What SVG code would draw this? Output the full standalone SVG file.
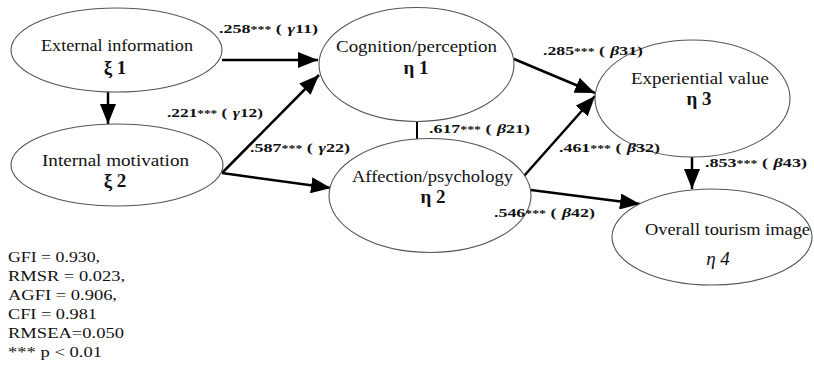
<svg xmlns="http://www.w3.org/2000/svg" width="814" height="374" viewBox="0 0 814 374">
<style>
.node ellipse{fill:#fff;stroke:#555;stroke-width:1.1}
.lbl{font-family:"Liberation Serif","Times New Roman",serif;font-size:16px;fill:#111;text-anchor:middle}
.sym{font-family:"Liberation Serif","Times New Roman",serif;font-size:19px;font-weight:bold;fill:#111;text-anchor:middle}
.symi{font-family:"Liberation Serif","Times New Roman",serif;font-size:19px;font-style:italic;fill:#111;text-anchor:middle}
.el{font-family:"Liberation Serif","Times New Roman",serif;font-size:13px;font-weight:bold;fill:#111}
.el .st{font-size:10px}
.el .g{font-style:italic}
.stat{font-family:"Liberation Serif","Times New Roman",serif;font-size:15px;fill:#111}
#connectors line{stroke:#000;stroke-width:2.5}
</style>
<defs>
<marker id="ah" markerUnits="userSpaceOnUse" viewBox="0 0 20 16" markerWidth="20" markerHeight="16" refX="20" refY="8" orient="auto">
<path d="M0,0 L20,8 L0,16 Z" fill="#000"/>
</marker>
</defs>
<rect width="814" height="374" fill="#fff"/>
<g id="connectors">
<line x1="108" y1="92" x2="108" y2="124" marker-end="url(#ah)"/>
<line x1="222" y1="60" x2="318" y2="60" marker-end="url(#ah)"/>
<line x1="222" y1="173" x2="319" y2="75" marker-end="url(#ah)"/>
<line x1="222" y1="173" x2="331" y2="188" marker-end="url(#ah)"/>
<line x1="514" y1="59" x2="595" y2="93" marker-end="url(#ah)"/>
<line x1="524" y1="176" x2="595" y2="96" marker-end="url(#ah)"/>
<line x1="531" y1="190" x2="640" y2="204" marker-end="url(#ah)"/>
<line x1="692" y1="157" x2="692" y2="189" marker-end="url(#ah)"/>
<line x1="417" y1="121" x2="417" y2="139" style="stroke-width:2"/>
</g>
<g id="xi1" class="node">
<ellipse cx="116.5" cy="50" rx="105.5" ry="42"/>
<text class="lbl" x="117" y="51" textLength="152" lengthAdjust="spacingAndGlyphs">External information</text>
<text class="sym" x="115" y="74">ξ 1</text>
</g>
<g id="xi2" class="node">
<ellipse cx="117" cy="165" rx="106" ry="41"/>
<text class="lbl" x="115.5" y="166" textLength="147" lengthAdjust="spacingAndGlyphs">Internal motivation</text>
<text class="sym" x="115" y="187">ξ 2</text>
</g>
<g id="eta1" class="node">
<ellipse cx="416.5" cy="64.5" rx="97.5" ry="57"/>
<text class="lbl" x="416.5" y="52" textLength="161" lengthAdjust="spacingAndGlyphs">Cognition/perception</text>
<text class="sym" x="416" y="74">η 1</text>
</g>
<g id="eta2" class="node">
<ellipse cx="430" cy="195.5" rx="101" ry="57"/>
<text class="lbl" x="432.5" y="182" textLength="161" lengthAdjust="spacingAndGlyphs">Affection/psychology</text>
<text class="sym" x="433" y="203">η 2</text>
</g>
<g id="eta3" class="node">
<ellipse cx="692.5" cy="98.5" rx="97.5" ry="58.5"/>
<text class="lbl" x="700" y="84" textLength="138" lengthAdjust="spacingAndGlyphs">Experiential value</text>
<text class="sym" x="699" y="105">η 3</text>
</g>
<g id="eta4" class="node">
<ellipse cx="712" cy="237" rx="100" ry="48"/>
<text class="lbl" x="727.5" y="235" textLength="165" lengthAdjust="spacingAndGlyphs">Overall tourism image</text>
<text class="symi" x="718" y="265">η 4</text>
</g>
<g id="edge-labels">
<text class="el" x="219" y="33" textLength="99" lengthAdjust="spacingAndGlyphs">.258<tspan class="st">***</tspan> (<tspan class="g" dx="4">γ</tspan>11)</text>
<text class="el" x="167" y="117" textLength="96" lengthAdjust="spacingAndGlyphs">.221<tspan class="st">***</tspan> (<tspan class="g" dx="4">γ</tspan>12)</text>
<text class="el" x="250" y="152" textLength="100" lengthAdjust="spacingAndGlyphs">.587<tspan class="st">***</tspan> (<tspan class="g" dx="4">γ</tspan>22)</text>
<text class="el" x="429" y="133" textLength="101" lengthAdjust="spacingAndGlyphs">.617<tspan class="st">***</tspan> (<tspan class="g" dx="4">β</tspan>21)</text>
<text class="el" x="543" y="55" textLength="100" lengthAdjust="spacingAndGlyphs">.285<tspan class="st">***</tspan> (<tspan class="g" dx="4">β</tspan>31)</text>
<text class="el" x="559" y="152" textLength="101" lengthAdjust="spacingAndGlyphs">.461<tspan class="st">***</tspan> (<tspan class="g" dx="4">β</tspan>32)</text>
<text class="el" x="705" y="167" textLength="102" lengthAdjust="spacingAndGlyphs">.853<tspan class="st">***</tspan> (<tspan class="g" dx="4">β</tspan>43)</text>
<text class="el" x="494" y="217" textLength="101" lengthAdjust="spacingAndGlyphs">.546<tspan class="st">***</tspan> (<tspan class="g" dx="4">β</tspan>42)</text>
</g>
<g id="fit-stats">
<text class="stat" x="8" y="262" textLength="92" lengthAdjust="spacingAndGlyphs">GFI = 0.930,</text>
<text class="stat" x="8" y="281" textLength="117" lengthAdjust="spacingAndGlyphs">RMSR = 0.023,</text>
<text class="stat" x="8" y="300" textLength="109" lengthAdjust="spacingAndGlyphs">AGFI = 0.906,</text>
<text class="stat" x="8" y="319" textLength="89" lengthAdjust="spacingAndGlyphs">CFI = 0.981</text>
<text class="stat" x="8" y="338" textLength="116" lengthAdjust="spacingAndGlyphs">RMSEA=0.050</text>
<text class="stat" x="8" y="357" textLength="94" lengthAdjust="spacingAndGlyphs">*** p &lt; 0.01</text>
</g>
</svg>
